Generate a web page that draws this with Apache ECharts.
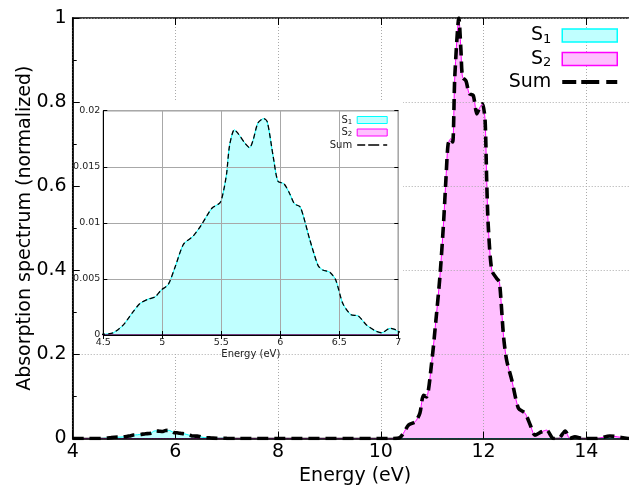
<!DOCTYPE html>
<html><head><meta charset="utf-8">
<script src="https://cdn.jsdelivr.net/npm/echarts@6/dist/echarts.min.js"></script>
<style>html,body{margin:0;padding:0;background:#fff;overflow:hidden;}#c{width:629px;height:486px;}</style>
</head><body><div id="c"></div>
<script>
// S1 spectrum (energy in eV, normalized absorption)
const s1Energy = [4.0, 4.3, 4.5, 4.585, 4.67, 4.74, 4.81, 4.88, 4.94, 4.99, 5.05, 5.11, 5.18, 5.26, 5.33, 5.42, 5.49, 5.52, 5.545, 5.57, 5.61, 5.64, 5.70, 5.74, 5.77, 5.81, 5.86, 5.89, 5.94, 5.98, 6.03, 6.08, 6.12, 6.17, 6.25, 6.32, 6.36, 6.42, 6.47, 6.53, 6.60, 6.66, 6.73, 6.80, 6.86, 6.93, 6.97, 7.0, 7.2, 15.0];
const s1Values = [0, 0, 0.00006, 0.0002, 0.0009, 0.0019, 0.0028, 0.0032, 0.0034, 0.0040, 0.0045, 0.0061, 0.0081, 0.0088, 0.0098, 0.0113, 0.0118, 0.0129, 0.0144, 0.0169, 0.0183, 0.0180, 0.0171, 0.0167, 0.0174, 0.0189, 0.0193, 0.0190, 0.0159, 0.0137, 0.0135, 0.0126, 0.0117, 0.0114, 0.0085, 0.0062, 0.0058, 0.0056, 0.0049, 0.0028, 0.0018, 0.0017, 0.0009, 0.0004, 0.0002, 0.0006, 0.0005, 0.0003, 0, 0];
// S2 spectrum
const s2Energy = [4.0, 10.2, 10.37, 10.54, 10.67, 10.76, 10.83, 10.89, 10.99, 11.06, 11.15, 11.22, 11.27, 11.31, 11.36, 11.40, 11.44, 11.52, 11.56, 11.59, 11.66, 11.72, 11.80, 11.87, 11.93, 11.98, 12.03, 12.06, 12.09, 12.16, 12.26, 12.31, 12.39, 12.45, 12.55, 12.68, 12.81, 12.91, 13.00, 13.13, 13.23, 13.36, 13.46, 13.59, 13.68, 13.78, 13.94, 14.2, 14.46, 14.66, 14.82, 15.0];
const s2Values = [0, 0, 0.002, 0.032, 0.04, 0.06, 0.103, 0.099, 0.18, 0.265, 0.384, 0.51, 0.622, 0.70, 0.713, 0.705, 0.86, 1.0, 0.923, 0.86, 0.85, 0.82, 0.816, 0.772, 0.788, 0.796, 0.757, 0.62, 0.51, 0.40, 0.38, 0.372, 0.242, 0.186, 0.139, 0.072, 0.06, 0.032, 0.008, 0.016, 0.02, 0.0, 0.0, 0.018, 0.0, 0.004, 0.0, 0.0, 0.006, 0.003, 0.0, 0.0];
const legendNames = ['S1', 'S2', 'Sum'];
const mainXTicks = [4, 15, 2];
const mainYTicks = [0, 1, 0.2];
const insetXTicks = [4.5, 7, 0.5];
const insetYTicks = [0, 0.02, 0.005];
const xTitle = 'Energy (eV)';
const yTitle = 'Absorption spectrum (normalized)';

const s1Data = s1Energy.map((e, i) => [e, s1Values[i]]);
const s2Data = s2Energy.map((e, i) => [e, s2Values[i]]);
// S1 and S2 do not overlap: the sum is S1 below 10 eV and S2 above
const sumData = s1Data.filter(p => p[0] < 10).concat(s2Data.filter(p => p[0] >= 10));

const FONT = 'DejaVu Sans';
const cyanFill = '#c0ffff', cyanLine = '#00ffff', pinkFill = '#ffc0ff', pinkLine = '#ff00ff';

function mkSeries(name, data, xi, yi, big) {
  const base = {name, type: 'line', data, xAxisIndex: xi, yAxisIndex: yi, showSymbol: false, symbol: 'none', smooth: 0.25, animation: false, silent: true};
  if (name === 'S1') return Object.assign(base, {z: big ? 2 : 11, lineStyle: {color: cyanLine, width: 1}, itemStyle: {color: cyanLine}, areaStyle: {color: cyanFill, opacity: 1}});
  if (name === 'S2') return Object.assign(base, {z: big ? 2 : 11, lineStyle: {color: pinkLine, width: 1}, itemStyle: {color: pinkLine}, areaStyle: {color: pinkFill, opacity: 1}});
  return Object.assign(base, {z: big ? 4 : 13, lineStyle: {color: '#000', width: big ? 3.6 : 1.3, type: big ? [11, 6] : [5, 3]}, itemStyle: {color: '#000'}});
}

const subFmt = n => n === 'Sum' ? 'Sum' : 'S{sub|' + n.slice(1) + '}';

const chart = echarts.init(document.getElementById('c'), null, {renderer: 'canvas'});
chart.setOption({
  animation: false,
  backgroundColor: '#fff',
  grid: [
    {left: 72.7, width: 564.9, top: 18, bottom: 47.5, show: true, borderColor: '#000', borderWidth: 1.5, z: 0, containLabel: false, outerBoundsMode: 'none'},
    {left: 103.3, right: 230.7, top: 110.7, bottom: 151, show: true, borderColor: '#000', borderWidth: 1, backgroundColor: 'transparent', z: 12, outerBoundsMode: 'none'}
  ],
  graphic: [{type: 'rect', shape: {x: 80, y: 100, width: 323, height: 252}, style: {fill: '#fff'}, z: 5, silent: true}],
  xAxis: [
    {gridIndex: 0, type: 'value', min: mainXTicks[0], max: mainXTicks[1], interval: mainXTicks[2], z: 3,
      name: xTitle, nameLocation: 'middle', nameGap: 28, nameMoveOverlap: false, nameTextStyle: {fontSize: 19, fontFamily: FONT, color: '#000'},
      axisLine: {lineStyle: {color: '#000', width: 1.5}}, axisTick: {inside: true, length: 7, lineStyle: {color: '#000'}},
      axisLabel: {fontSize: 19, fontFamily: FONT, color: '#000', margin: 4, showMaxLabel: false},
      splitLine: {show: true, lineStyle: {color: '#aaa', type: [1, 2], width: 1}}},
    {gridIndex: 0, type: 'value', position: 'top', min: mainXTicks[0], max: mainXTicks[1], interval: mainXTicks[2], z: 3,
      axisLine: {show: false}, axisTick: {inside: true, length: 7, lineStyle: {color: '#000'}}, axisLabel: {show: false}, splitLine: {show: false}},
    {gridIndex: 1, type: 'value', min: insetXTicks[0], max: insetXTicks[1], interval: insetXTicks[2], z: 12,
      name: xTitle, nameLocation: 'middle', nameGap: 14, nameMoveOverlap: false, nameTextStyle: {fontSize: 10, fontFamily: FONT, color: '#222'},
      axisLine: {lineStyle: {color: '#000', width: 1}}, axisTick: {inside: true, length: 4, lineStyle: {color: '#000'}},
      axisLabel: {fontSize: 9.5, fontFamily: FONT, color: '#222', margin: 3},
      splitLine: {show: true, lineStyle: {color: '#a8a8a8', width: 1}}},
    {gridIndex: 1, type: 'value', position: 'top', min: insetXTicks[0], max: insetXTicks[1], interval: insetXTicks[2], z: 12,
      axisLine: {show: false}, axisTick: {inside: true, length: 4, lineStyle: {color: '#000'}}, axisLabel: {show: false}, splitLine: {show: false}}
  ],
  yAxis: [
    {gridIndex: 0, type: 'value', min: mainYTicks[0], max: mainYTicks[1], interval: mainYTicks[2], z: 3,
      name: yTitle, nameLocation: 'middle', nameGap: 38, nameMoveOverlap: false, nameTextStyle: {fontSize: 19, fontFamily: FONT, color: '#000'},
      axisLine: {show: true, lineStyle: {color: '#000', width: 1.5}}, axisTick: {show: true, inside: true, length: 7, lineStyle: {color: '#000'}},
      minorTick: {show: true, splitNumber: 2, length: 4, lineStyle: {color: '#000'}},
      axisLabel: {fontSize: 19, fontFamily: FONT, color: '#000', margin: 6},
      splitLine: {show: true, lineStyle: {color: '#aaa', type: [1, 2], width: 1}}},
    {gridIndex: 1, type: 'value', min: insetYTicks[0], max: insetYTicks[1], interval: insetYTicks[2], z: 12,
      axisLine: {show: true, lineStyle: {color: '#000', width: 1}}, axisTick: {show: true, inside: true, length: 4, lineStyle: {color: '#000'}},
      axisLabel: {fontSize: 9.5, fontFamily: FONT, color: '#222', margin: 3},
      splitLine: {show: true, lineStyle: {color: '#a8a8a8', width: 1}}},
    {gridIndex: 1, type: 'value', position: 'right', min: insetYTicks[0], max: insetYTicks[1], interval: insetYTicks[2], z: 12,
      axisLine: {show: false}, axisTick: {show: true, inside: true, length: 4, lineStyle: {color: '#000'}}, axisLabel: {show: false}, splitLine: {show: false}}
  ],
  legend: [
    {orient: 'vertical', right: 11, top: 25, align: 'right', padding: 0, itemGap: 2.5, itemWidth: 55, itemHeight: 13, z: 20,
      selectedMode: false, formatter: subFmt,
      textStyle: {fontSize: 19, fontFamily: FONT, color: '#000', lineHeight: 20, padding: [0, 6, 0, 0],
        rich: {sub: {fontSize: 13, fontFamily: FONT, color: '#000', padding: [8, 0, 0, 0], lineHeight: 14}}},
      data: [
        {name: legendNames[0], icon: 'rect', itemStyle: {color: cyanFill, borderColor: cyanLine, borderWidth: 1.5}},
        {name: legendNames[1], icon: 'rect', itemStyle: {color: pinkFill, borderColor: pinkLine, borderWidth: 1.5}},
        {name: legendNames[2], icon: 'path://M0,0h14v4h-14zM19,0h18v4h-18zM44,0h11v4h-11z', itemStyle: {color: '#000', borderWidth: 0}}
      ]},
    {orient: 'vertical', right: 241.3, top: 114.5, align: 'right', padding: 0, itemGap: 1.5, itemWidth: 30, itemHeight: 7, z: 20,
      selectedMode: false, formatter: subFmt,
      textStyle: {fontSize: 10, fontFamily: FONT, color: '#222', lineHeight: 11,
        rich: {sub: {fontSize: 7, fontFamily: FONT, color: '#222', padding: [4, 0, 0, 0], lineHeight: 8}}},
      data: [
        {name: legendNames[0], icon: 'rect', itemStyle: {color: cyanFill, borderColor: cyanLine, borderWidth: 1}},
        {name: legendNames[1], icon: 'rect', itemStyle: {color: pinkFill, borderColor: pinkLine, borderWidth: 1}},
        {name: legendNames[2], icon: 'path://M0,0h8v1.5h-8zM11,0h11v1.5h-11zM26,0h4v1.5h-4z', itemStyle: {color: '#000', borderWidth: 0}}
      ]}
  ],
  series: [
    mkSeries('S1', s1Data, 0, 0, true),
    mkSeries('S2', s2Data, 0, 0, true),
    mkSeries('Sum', sumData, 0, 0, true),
    mkSeries('S1', s1Data, 2, 1, false),
    mkSeries('S2', s2Data, 2, 1, false),
    mkSeries('Sum', sumData, 2, 1, false)
  ]
});
</script></body></html>
